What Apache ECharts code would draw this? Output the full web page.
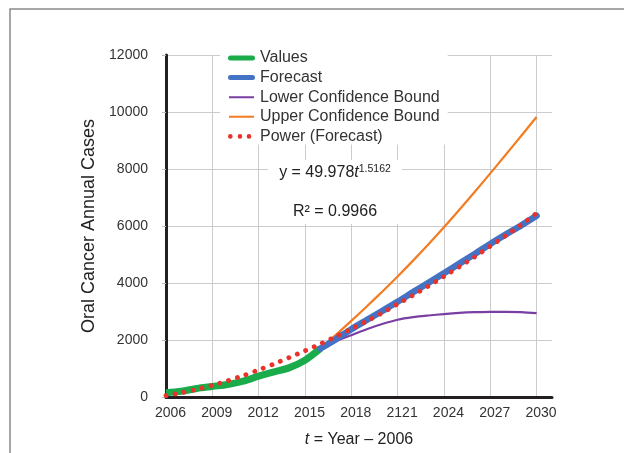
<!DOCTYPE html>
<html>
<head>
<meta charset="utf-8">
<script src="https://cdn.jsdelivr.net/npm/echarts@6/dist/echarts.min.js"></script>
<style>html,body{margin:0;padding:0;background:#fff;}#c{width:624px;height:453px;}</style>
</head>
<body>
<div id="c"></div>
<script>
// t = Year - 2006
const xTickLabels = ['2006','2009','2012','2015','2018','2121','2024','2027','2030'];
const yTicks = [0, 2000, 4000, 6000, 8000, 10000, 12000];

const valuesT = [0,1,2,3,4,5,6,7,8,9,10];
const valuesY = [150, 200, 300, 370, 440, 555, 730, 880, 1030, 1290, 1700];

const forecastT = [10,11,12,13,14,15,16,17,18,19,20,21,22,23,24];
const forecastY = [1700, 2030, 2380, 2700, 3020, 3340, 3680, 4010, 4340, 4680, 5020, 5370, 5700, 6020, 6360];
const lowerY    = [1700, 1950, 2170, 2380, 2560, 2710, 2800, 2860, 2910, 2950, 2975, 2990, 2990, 2975, 2940];
const upperY    = [1700, 2180, 2670, 3175, 3695, 4230, 4785, 5360, 5955, 6570, 7200, 7845, 8500, 9160, 9825];

const powerT = [0,1,2,3,4,5,6,7,8,9,10,11,12,13,14,15,16,17,18,19,20,21,22,23,24];
const powerY = [50, 150, 270, 410, 570, 750, 950, 1160, 1390, 1620, 1860, 2120, 2390, 2660, 2950, 3260, 3570, 3890, 4230, 4570, 4920, 5290, 5660, 6040, 6450];

const seriesNames = ['Values', 'Forecast', 'Lower Confidence Bound', 'Upper Confidence Bound', 'Power (Forecast)'];
const colors = { green: '#1aab4a', blue: '#4472c4', purple: '#7a3fa3', orange: '#f47b20', red: '#e8322a' };

function pairs(xs, ys) { return xs.map((x, i) => [x, ys[i]]); }

const speck = 'M0,0h0.01v0.01h-0.01z M26.99,13.99h0.01v0.01h-0.01z ';
const thickIcon = 'path://' + speck + 'M2.5,4.5h22a2.5,2.5 0 0 1 0,5h-22a2.5,2.5 0 0 1 0,-5z';
const thinIcon = 'path://' + speck + 'M1,6h25v2h-25z';
const dotIcon = 'path://' + speck +
  'M0,7a2.3,2.3 0 1 0 4.6,0a2.3,2.3 0 1 0 -4.6,0z M9.7,7a2.3,2.3 0 1 0 4.6,0a2.3,2.3 0 1 0 -4.6,0z M18.7,7a2.3,2.3 0 1 0 4.6,0a2.3,2.3 0 1 0 -4.6,0z';

const chart = echarts.init(document.getElementById('c'), null, { renderer: 'canvas' });
const font = 'Liberation Sans, Arial, Helvetica, sans-serif';

chart.setOption({
  animation: false,
  backgroundColor: '#ffffff',
  textStyle: { fontFamily: font },
  grid: { left: 166, right: 72, top: 55, bottom: 56, containLabel: false },
  legend: {
    orient: 'vertical',
    left: 220, top: 45,
    padding: [5, 8, 0, 8],
    backgroundColor: '#ffffff',
    itemWidth: 27, itemHeight: 14, itemGap: 3.6,
    textStyle: { fontSize: 16, color: '#333333', fontFamily: font },
    itemStyle: { borderWidth: 0 },
    selectedMode: false,
    data: [
      { name: seriesNames[0], icon: thickIcon, itemStyle: { color: colors.green, borderWidth: 0 } },
      { name: seriesNames[1], icon: thickIcon, itemStyle: { color: colors.blue, borderWidth: 0 } },
      { name: seriesNames[2], icon: thinIcon, itemStyle: { color: colors.purple, borderWidth: 0 } },
      { name: seriesNames[3], icon: thinIcon, itemStyle: { color: colors.orange, borderWidth: 0 } },
      { name: seriesNames[4], icon: dotIcon, itemStyle: { color: colors.red, borderWidth: 0 } }
    ]
  },
  xAxis: {
    type: 'value', min: 0, max: 25, interval: 3,
    name: '{i|t} = Year – 2006',
    nameLocation: 'middle', nameGap: 35,
    nameTextStyle: { fontSize: 16, color: '#222222', fontFamily: font,
      rich: { i: { fontSize: 16, fontStyle: 'italic', color: '#222222', fontFamily: font } } },
    axisLine: { show: true, onZero: false, lineStyle: { color: '#231f20', width: 3 } },
    axisTick: { show: false },
    axisLabel: {
      fontSize: 14, color: '#333333', margin: 9, padding: [0, 0, 0, 9],
      formatter: function (v) { return (v % 3 === 0 && v <= 24) ? xTickLabels[v / 3] : ''; }
    },
    splitLine: { show: true, showMinLine: false, showMaxLine: false, lineStyle: { color: '#cccccc', width: 1 } }
  },
  yAxis: {
    type: 'value', min: 0, max: 12000, interval: 2000,
    name: 'Oral Cancer Annual Cases',
    nameLocation: 'middle', nameGap: 60,
    nameTextStyle: { fontSize: 18, color: '#222222', fontFamily: font },
    axisLine: { show: true, lineStyle: { color: '#231f20', width: 3 } },
    axisTick: { show: true, inside: false, length: 4, lineStyle: { color: '#bbbbbb' } },
    axisLabel: { fontSize: 14, color: '#333333', margin: 18,
      formatter: function (v) { return yTicks.indexOf(v) >= 0 ? String(v) : ''; } },
    splitLine: { show: true, lineStyle: { color: '#cccccc', width: 1 } }
  },
  graphic: [
    { type: 'polyline', z: 10, silent: true,
      shape: { points: [[10, 453], [10, 9], [624, 9]] },
      style: { stroke: '#8a8a8a', lineWidth: 1.5, fill: null } },
    { type: 'rect', z: 10, silent: true,
      shape: { x: 268, y: 160, width: 134, height: 64 },
      style: { fill: '#ffffff' } },
    { type: 'text', z: 11, silent: true, x: 335, y: 173,
      style: {
        text: '{a|y = 49.978}{i|t}{s|1.5162}',
        align: 'center', verticalAlign: 'middle',
        textAlign: 'center', textVerticalAlign: 'middle',
        rich: {
          a: { fontSize: 16, fontFamily: font, fill: '#222222', color: '#222222', lineHeight: 18 },
          i: { fontSize: 16, fontFamily: font, fontStyle: 'italic', fill: '#222222', color: '#222222', lineHeight: 18 },
          s: { fontSize: 10.5, fontFamily: font, fill: '#222222', color: '#222222', verticalAlign: 'top', lineHeight: 18 }
        }
      } },
    { type: 'text', z: 11, silent: true, x: 335, y: 212,
      style: {
        text: 'R² = 0.9966', font: '16px ' + font, fill: '#222222',
        align: 'center', verticalAlign: 'middle', textAlign: 'center', textVerticalAlign: 'middle'
      } }
  ],
  series: [
    { name: seriesNames[0], type: 'line', data: pairs(valuesT, valuesY), smooth: 0.3,
      showSymbol: false, symbol: 'none', z: 4,
      lineStyle: { color: colors.green, width: 7 }, itemStyle: { color: colors.green } },
    { name: seriesNames[1], type: 'line', data: pairs(forecastT, forecastY), smooth: 0.3,
      showSymbol: false, symbol: 'none', z: 4,
      lineStyle: { color: colors.blue, width: 6.5, cap: 'round' }, itemStyle: { color: colors.blue } },
    { name: seriesNames[2], type: 'line', data: pairs(forecastT, lowerY), smooth: 0.3,
      showSymbol: false, symbol: 'none', z: 3,
      lineStyle: { color: colors.purple, width: 2.2 }, itemStyle: { color: colors.purple } },
    { name: seriesNames[3], type: 'line', data: pairs(forecastT, upperY), smooth: 0.3,
      showSymbol: false, symbol: 'none', z: 3,
      lineStyle: { color: colors.orange, width: 2.2 }, itemStyle: { color: colors.orange } },
    { name: seriesNames[4], type: 'line', data: pairs(powerT, powerY), smooth: 0.3,
      showSymbol: false, symbol: 'none', z: 5,
      lineStyle: { color: colors.red, width: 4.8, type: [0.1, 9.1], cap: 'round' }, itemStyle: { color: colors.red } }
  ]
});
</script>
</body>
</html>
